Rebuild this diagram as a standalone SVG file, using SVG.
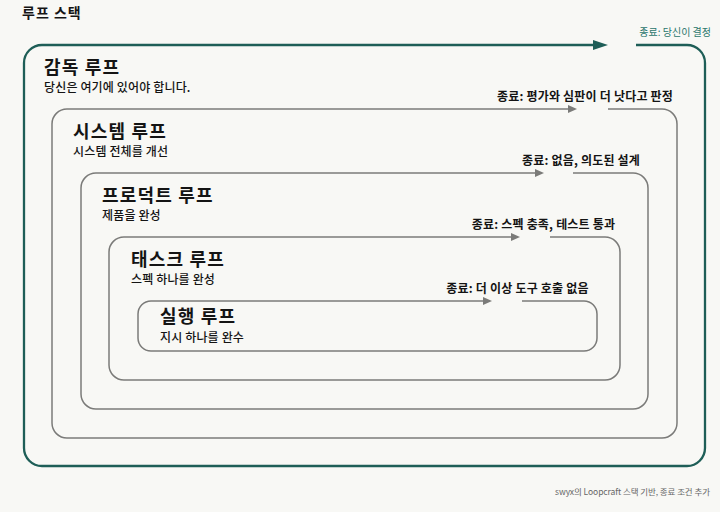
<svg xmlns="http://www.w3.org/2000/svg" width="720" height="512" viewBox="0 0 720 512">
<style>
text{font-family:"Noto Sans CJK KR","Noto Sans",sans-serif;fill:#141414}
.title{font-size:18px;font-weight:700;letter-spacing:1.2px}
.sub{font-size:12px;font-weight:500;letter-spacing:0.15px}
.exit{font-size:12px;font-weight:700;text-anchor:middle;letter-spacing:0.2px}
.green{fill:none;stroke:#1e5e57;stroke-width:2.3}
.gray{fill:none;stroke:#7b7b79;stroke-width:1.5}
</style>
<defs>
<marker id="ahG" markerUnits="userSpaceOnUse" markerWidth="15" markerHeight="10" refX="3" refY="5" orient="auto">
<path d="M0,0 L15,5 L0,10 z" fill="#1e5e57"/>
</marker>
<marker id="ahN" markerUnits="userSpaceOnUse" markerWidth="9" markerHeight="8" refX="2" refY="4" orient="auto">
<path d="M0,0 L9,4 L0,8 z" fill="#7b7b79"/>
</marker>
</defs>
<rect x="0" y="0" width="720" height="512" fill="#f8f8f5"/>
<text x="22" y="18" style="font-size:14px;font-weight:700" letter-spacing="1">루프 스택</text>

<g id="supervisor-loop">
<path class="green" d="M636,45 H687 A18,18 0 0 1 705,63 V448 A18,18 0 0 1 687,466 H42 A18,18 0 0 1 24,448 V63 A18,18 0 0 1 42,45"/>
<text class="title" x="44" y="74">감독 루프</text>
<text class="sub" x="44" y="92">당신은 여기에 있어야 합니다.</text>
<text x="711" y="36" text-anchor="end" style="font-size:10px;fill:#2a766c">종료: 당신이 결정</text>
</g>

<g id="system-loop">
<path class="gray" d="M608,109 H662 A15,15 0 0 1 677,124 V423 A15,15 0 0 1 662,438 H67 A15,15 0 0 1 52,423 V124 A15,15 0 0 1 67,109"/>
<text class="title" x="73" y="138">시스템 루프</text>
<text class="sub" x="73" y="156">시스템 전체를 개선</text>
<text class="exit" x="585" y="101">종료: 평가와 심판이 더 낫다고 판정</text>
</g>

<g id="product-loop">
<path class="gray" d="M573,173 H633 A15,15 0 0 1 648,188 V394 A15,15 0 0 1 633,409 H96 A15,15 0 0 1 81,394 V188 A15,15 0 0 1 96,173"/>
<text class="title" x="102" y="202">프로덕트 루프</text>
<text class="sub" x="102" y="220">제품을 완성</text>
<text class="exit" x="581" y="165">종료: 없음, 의도된 설계</text>
</g>

<g id="task-loop">
<path class="gray" d="M550,237 H605 A15,15 0 0 1 620,252 V365 A15,15 0 0 1 605,380 H124 A15,15 0 0 1 109,365 V252 A15,15 0 0 1 124,237"/>
<text class="title" x="131" y="266">태스크 루프</text>
<text class="sub" x="131" y="284">스펙 하나를 완성</text>
<text class="exit" x="543.5" y="229">종료: 스펙 충족, 테스트 통과</text>
</g>

<g id="execution-loop">
<path class="gray" d="M522,301 H584 A13,13 0 0 1 597,314 V338 A13,13 0 0 1 584,351 H151 A13,13 0 0 1 138,338 V314 A13,13 0 0 1 151,301"/>
<text class="title" x="160" y="323">실행 루프</text>
<text class="sub" x="160" y="341.5">지시 하나를 완수</text>
<text class="exit" x="517.5" y="293">종료: 더 이상 도구 호출 없음</text>
</g>

<g id="connectors">
<path class="green" d="M42,45 H596" marker-end="url(#ahG)"/>
<path class="gray" d="M67,109 H570" marker-end="url(#ahN)"/>
<path class="gray" d="M96,173 H537" marker-end="url(#ahN)"/>
<path class="gray" d="M124,237 H513" marker-end="url(#ahN)"/>
<path class="gray" d="M151,301 H485" marker-end="url(#ahN)"/>
</g>

<text x="710" y="495" text-anchor="end" style="font-size:8.5px;fill:#666" textLength="155">swyx의 Loopcraft 스택 기반, 종료 조건 추가</text>
</svg>
